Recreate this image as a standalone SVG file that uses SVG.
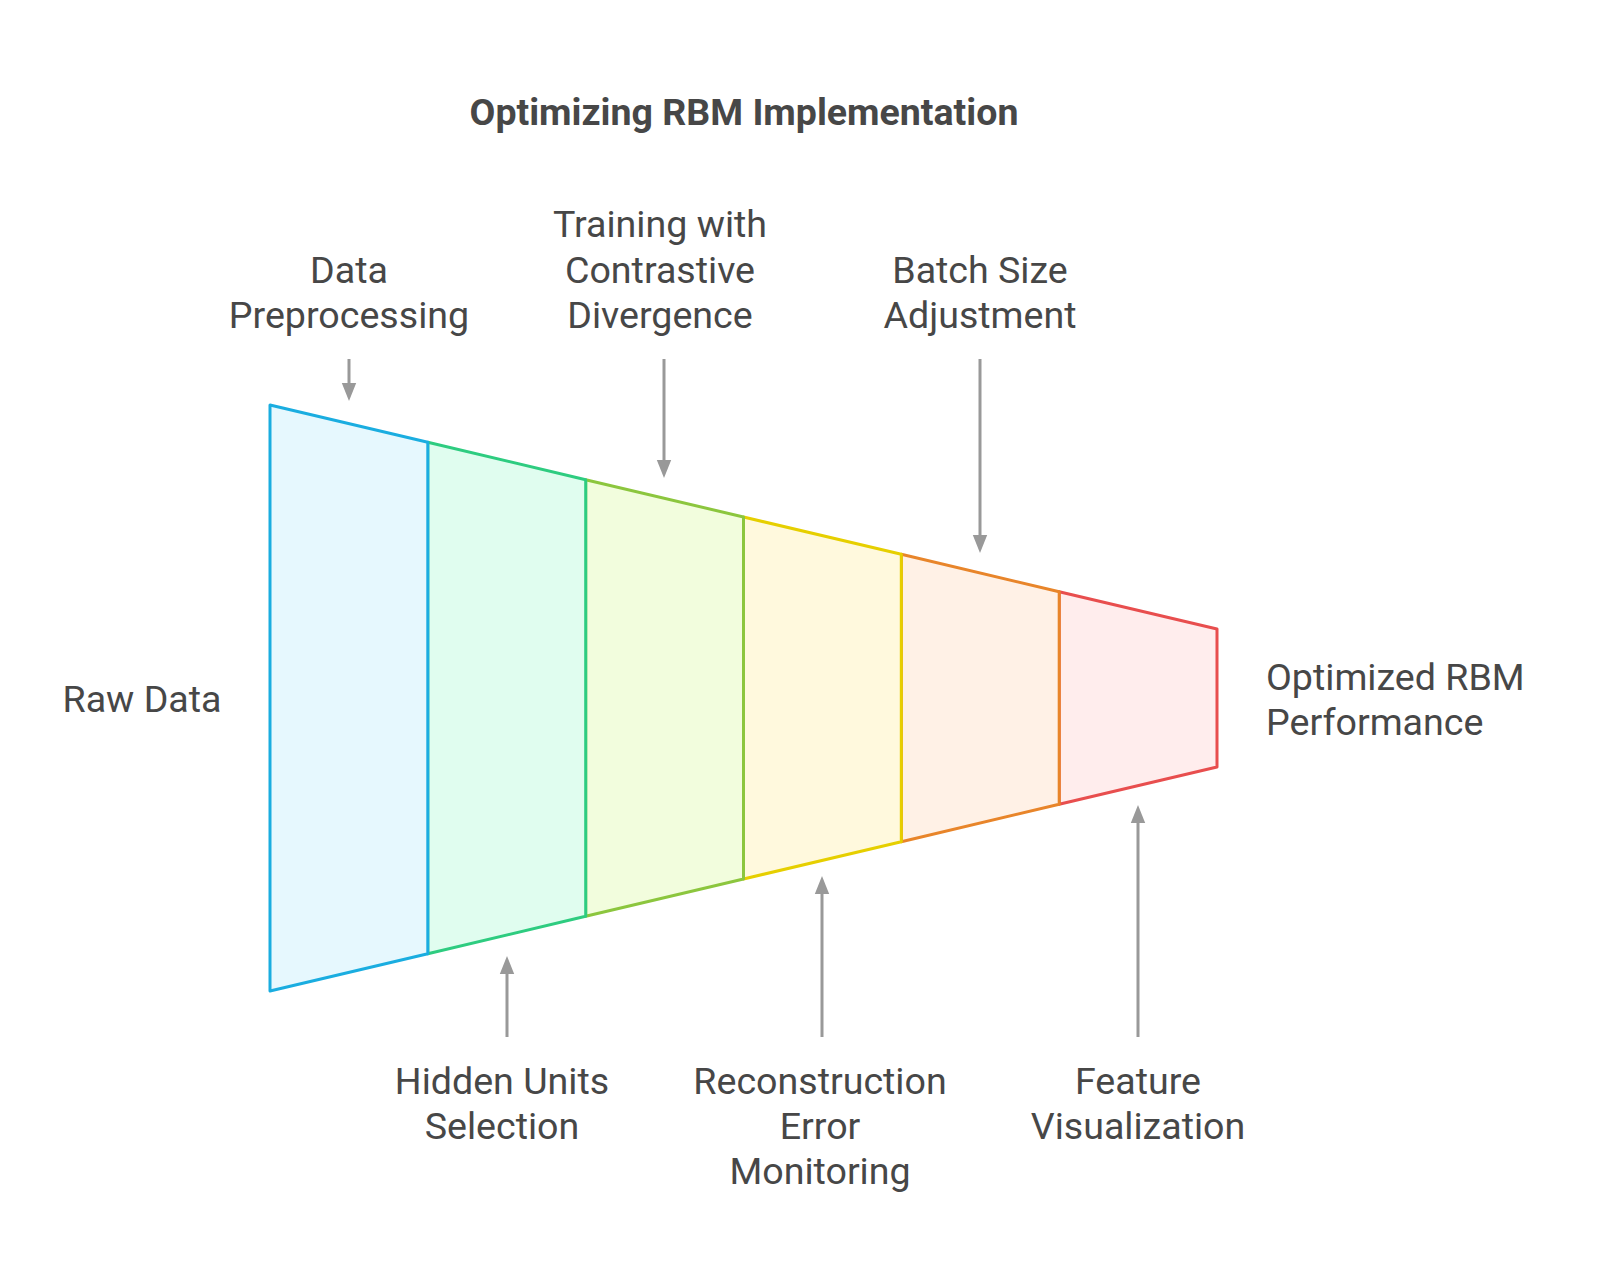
<svg xmlns="http://www.w3.org/2000/svg" width="1600" height="1284" viewBox="0 0 1600 1284">
<style>
.t{font-family:Roboto,"Liberation Sans",sans-serif;font-size:37.6px;fill:#474747;}
.c{text-anchor:middle;}
.title{font-family:Roboto,"Liberation Sans",sans-serif;font-size:37.5px;font-weight:bold;fill:#474747;text-anchor:middle;}
.seg{stroke-width:3;stroke-linejoin:round;}
.arr{stroke:#999999;stroke-width:3;fill:none;}
</style>
<defs>
<marker id="ah" viewBox="0 0 10 10" refX="5" refY="5" markerWidth="6" markerHeight="6" markerUnits="strokeWidth" orient="auto-start-reverse">
<path d="M0,1 L10,5 L0,9 Z" fill="#999999"/>
</marker>
</defs>
<rect width="1600" height="1284" fill="#ffffff"/>
<text class="title" x="744" y="125">Optimizing RBM Implementation</text>
<g id="funnel">
<g id="s6"><polygon class="seg" points="1059.2,591.7 1217,629 1217,767 1059.2,804.3" fill="#FFEDED" stroke="#E84E4E"/></g>
<g id="s5"><polygon class="seg" points="901.3,554.3 1059.2,591.7 1059.2,804.3 901.3,841.7" fill="#FFF1E6" stroke="#E8852A"/></g>
<g id="s4"><polygon class="seg" points="743.5,517 901.3,554.3 901.3,841.7 743.5,879" fill="#FFF9DD" stroke="#E6CF00"/></g>
<g id="s3"><polygon class="seg" points="585.7,479.7 743.5,517 743.5,879 585.7,916.3" fill="#F2FDDD" stroke="#8CC63E"/></g>
<g id="s2"><polygon class="seg" points="427.8,442.3 585.7,479.7 585.7,916.3 427.8,953.7" fill="#E0FDEF" stroke="#2ECC80"/></g>
<g id="s1"><polygon class="seg" points="270,405 427.8,442.3 427.8,953.7 270,991" fill="#E6F8FE" stroke="#1AADE0"/></g>
</g>
<g id="connectors">
<line class="arr" x1="349" y1="359" x2="349" y2="392" marker-end="url(#ah)"/>
<line class="arr" x1="664" y1="359" x2="664" y2="469" marker-end="url(#ah)"/>
<line class="arr" x1="980" y1="359" x2="980" y2="544" marker-end="url(#ah)"/>
<line class="arr" x1="507" y1="1037" x2="507" y2="965" marker-end="url(#ah)"/>
<line class="arr" x1="822" y1="1037" x2="822" y2="885" marker-end="url(#ah)"/>
<line class="arr" x1="1138" y1="1037" x2="1138" y2="814" marker-end="url(#ah)"/>
</g>
<g id="raw-data"><text class="t c" x="142" y="712">Raw Data</text></g>
<g id="optimized"><text class="t" x="1266" y="690">Optimized RBM</text><text class="t" x="1266" y="735">Performance</text></g>
<g id="data-preprocessing"><text class="t c" x="349" y="283">Data</text><text class="t c" x="349" y="328">Preprocessing</text></g>
<g id="training"><text class="t c" x="660" y="237">Training with</text><text class="t c" x="660" y="283">Contrastive</text><text class="t c" x="660" y="328">Divergence</text></g>
<g id="batch-size"><text class="t c" x="980" y="283">Batch Size</text><text class="t c" x="980" y="328">Adjustment</text></g>
<g id="hidden-units"><text class="t c" x="502" y="1094">Hidden Units</text><text class="t c" x="502" y="1139">Selection</text></g>
<g id="reconstruction"><text class="t c" x="820" y="1094">Reconstruction</text><text class="t c" x="820" y="1139">Error</text><text class="t c" x="820" y="1184">Monitoring</text></g>
<g id="feature-vis"><text class="t c" x="1138" y="1094">Feature</text><text class="t c" x="1138" y="1139">Visualization</text></g>
</svg>
